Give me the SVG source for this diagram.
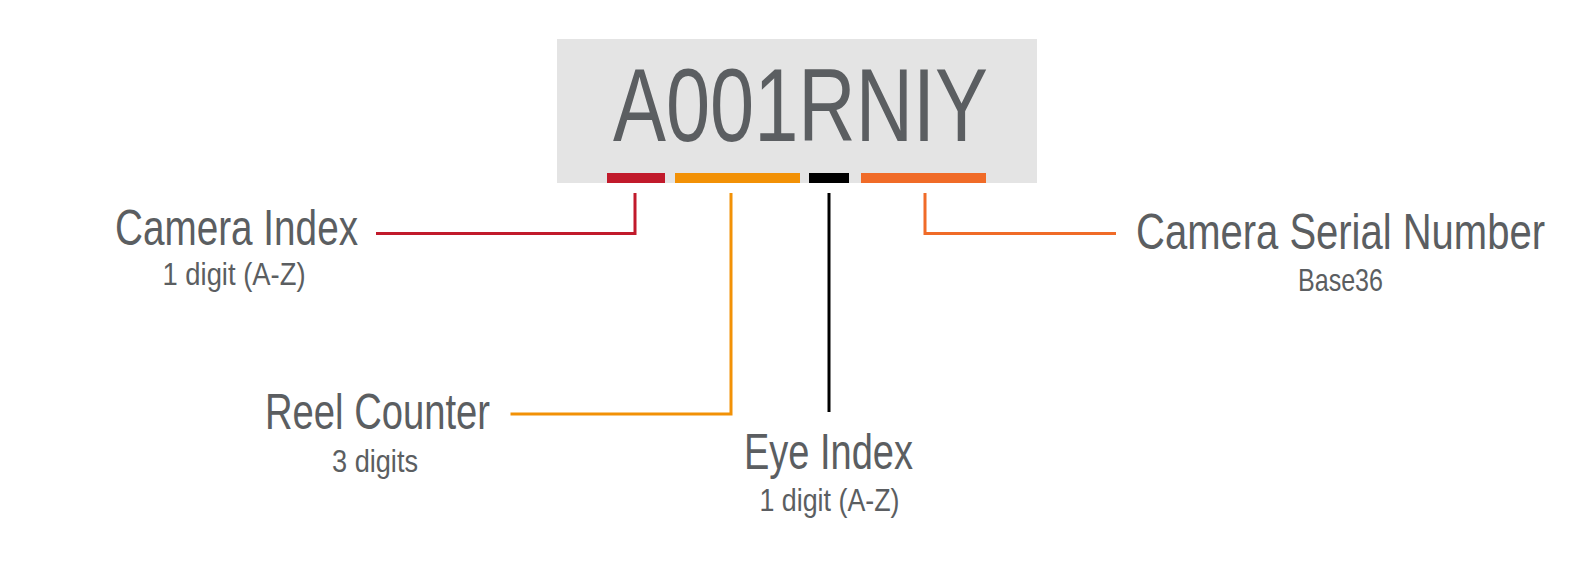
<svg xmlns="http://www.w3.org/2000/svg" width="1580" height="573" viewBox="0 0 1580 573">
<style>
.t{font-family:"Liberation Sans",Arial,sans-serif;fill:#5b5e61;text-anchor:middle}
.lbl{font-size:50px}
.sub{font-size:32px}
.ln{fill:none;stroke-width:3}
</style>
<rect x="0" y="0" width="1580" height="573" fill="#ffffff"/>
<g id="code">
<rect x="557" y="39" width="480" height="144" fill="#e4e4e4"/>
<text class="t" x="800.5" y="141" font-size="103" textLength="375" lengthAdjust="spacingAndGlyphs">A001RNIY</text>
<rect x="607" y="173" width="58" height="10" fill="#c11a2b"/>
<rect x="675" y="173" width="125" height="10" fill="#f29106"/>
<rect x="809" y="173" width="40" height="10" fill="#000000"/>
<rect x="861" y="173" width="125" height="10" fill="#f06b28"/>
</g>
<g id="connectors">
<path class="ln" stroke="#c11a2b" d="M376,233.5 H635 V193"/>
<path class="ln" stroke="#f29106" d="M510.5,414 H731 V193"/>
<path class="ln" stroke="#000000" d="M829,193 V412"/>
<path class="ln" stroke="#f06b28" d="M925,193 V233.5 H1116"/>
</g>
<g id="camera-index">
<text class="t lbl" x="236.5" y="245" textLength="243" lengthAdjust="spacingAndGlyphs">Camera Index</text>
<text class="t sub" x="234" y="285" textLength="143" lengthAdjust="spacingAndGlyphs">1 digit (A-Z)</text>
</g>
<g id="reel-counter">
<text class="t lbl" x="377.5" y="429" textLength="225" lengthAdjust="spacingAndGlyphs">Reel Counter</text>
<text class="t sub" x="375" y="472" textLength="86" lengthAdjust="spacingAndGlyphs">3 digits</text>
</g>
<g id="eye-index">
<text class="t lbl" x="828.5" y="469" textLength="169" lengthAdjust="spacingAndGlyphs">Eye Index</text>
<text class="t sub" x="829.5" y="511" textLength="140" lengthAdjust="spacingAndGlyphs">1 digit (A-Z)</text>
</g>
<g id="camera-serial">
<text class="t lbl" transform="translate(1340.5,249) scale(0.8,1)" x="0" y="0">Camera Serial Number</text>
<text class="t sub" x="1340.5" y="291" textLength="85" lengthAdjust="spacingAndGlyphs">Base36</text>
</g>
</svg>
